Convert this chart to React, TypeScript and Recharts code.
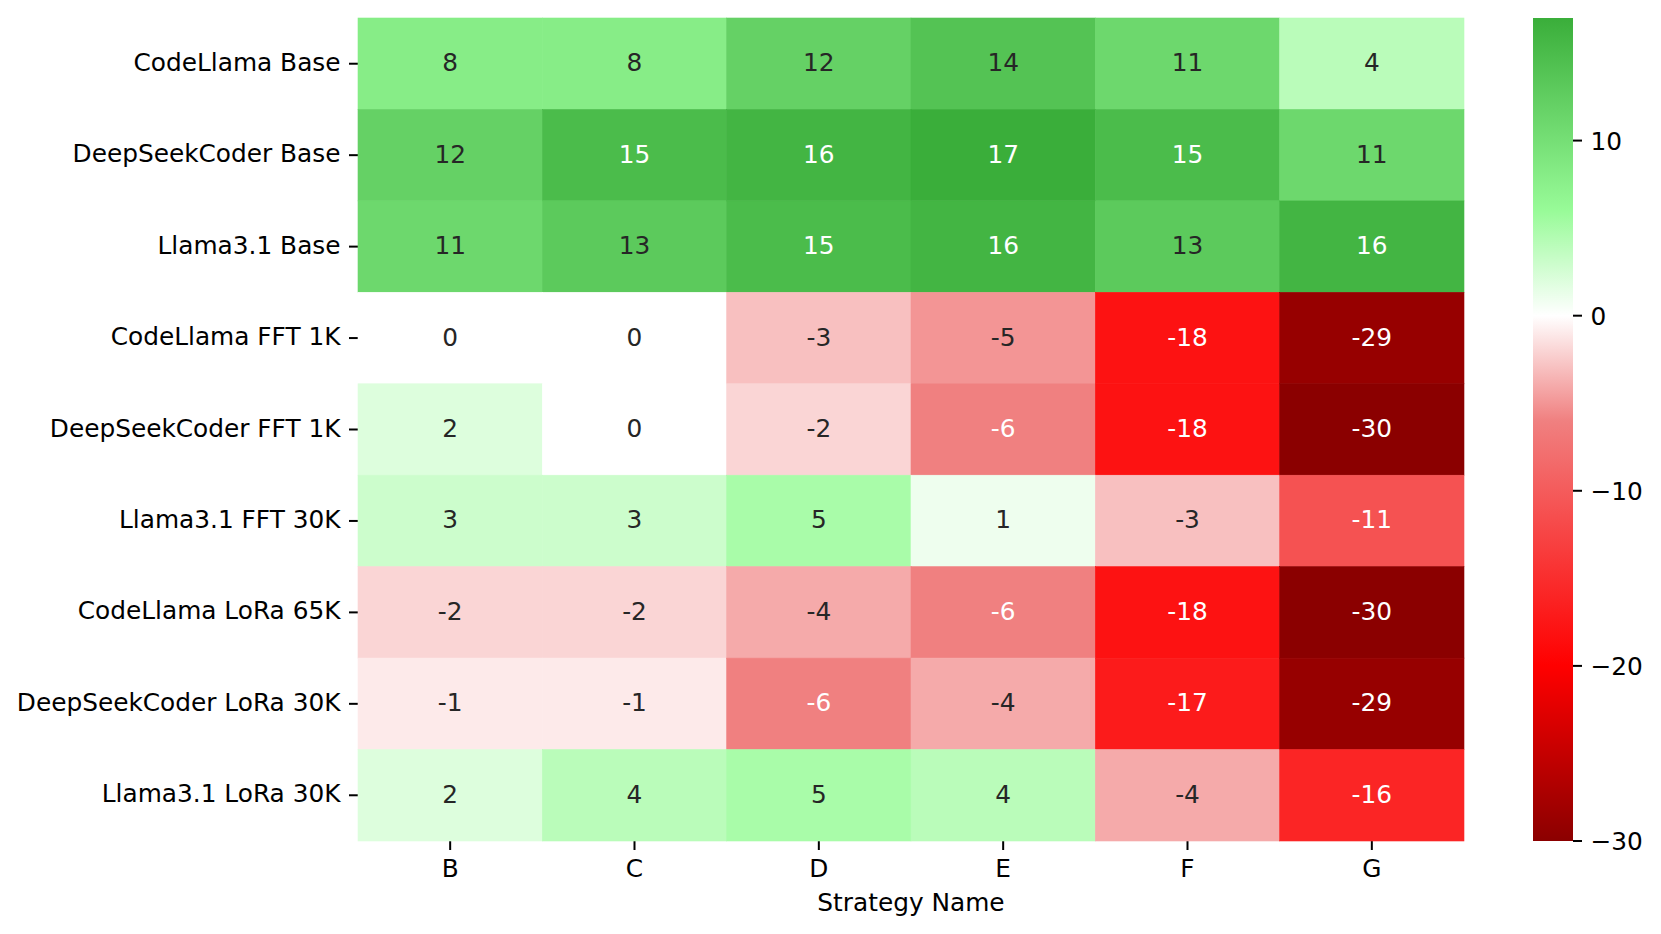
import React from "react";
import {
  ScatterChart,
  Scatter,
  BarChart,
  Bar,
  XAxis,
  YAxis,
  Label,
} from "recharts";

// rows (models) and columns (strategies)
const MODELS = [
  "CodeLlama Base",
  "DeepSeekCoder Base",
  "Llama3.1 Base",
  "CodeLlama FFT 1K",
  "DeepSeekCoder FFT 1K",
  "Llama3.1 FFT 30K",
  "CodeLlama LoRa 65K",
  "DeepSeekCoder LoRa 30K",
  "Llama3.1 LoRa 30K",
];
const STRATEGIES = ["B", "C", "D", "E", "F", "G"];

const codeLlamaBase = [8, 8, 12, 14, 11, 4];
const deepSeekBase = [12, 15, 16, 17, 15, 11];
const llamaBase = [11, 13, 15, 16, 13, 16];
const codeLlamaFft1k = [0, 0, -3, -5, -18, -29];
const deepSeekFft1k = [2, 0, -2, -6, -18, -30];
const llamaFft30k = [3, 3, 5, 1, -3, -11];
const codeLlamaLora65k = [-2, -2, -4, -6, -18, -30];
const deepSeekLora30k = [-1, -1, -6, -4, -17, -29];
const llamaLora30k = [2, 4, 5, 4, -4, -16];

const ROW_VALUES = [
  codeLlamaBase,
  deepSeekBase,
  llamaBase,
  codeLlamaFft1k,
  deepSeekFft1k,
  llamaFft30k,
  codeLlamaLora65k,
  deepSeekLora30k,
  llamaLora30k,
];

const CBAR_MIN = -30;
const CBAR_MAX = 17;
const CBAR_TICKS = [-30, -20, -10, 0, 10];

// colormap nodes: value -> rgb
const CMAP: [number, number[]][] = [
  [-30, [139, 0, 0]],
  [-20, [255, 0, 0]],
  [-6, [240, 128, 128]],
  [0, [255, 255, 255]],
  [6, [152, 251, 152]],
  [17, [58, 174, 58]],
];

const FONT = "'DejaVu Sans', sans-serif";
const FONT_SIZE = 24.8;

const W = 1661;
const H = 934;
const PLOT_LEFT = 358;
const PLOT_RIGHT = 1464;
const PLOT_TOP = 18;
const PLOT_BOTTOM = 841;
const CELL_W = (PLOT_RIGHT - PLOT_LEFT) / STRATEGIES.length;
const CELL_H = (PLOT_BOTTOM - PLOT_TOP) / MODELS.length;

function rgbFor(v: number): number[] {
  if (v <= CMAP[0][0]) return CMAP[0][1];
  for (let i = 1; i < CMAP.length; i++) {
    const [v1, c1] = CMAP[i];
    const [v0, c0] = CMAP[i - 1];
    if (v <= v1) {
      const t = (v - v0) / (v1 - v0);
      return c0.map((c, k) => Math.round(c + (c1[k] - c) * t));
    }
  }
  return CMAP[CMAP.length - 1][1];
}

const toHex = (rgb: number[]) =>
  "#" + rgb.map((c) => c.toString(16).padStart(2, "0")).join("");

function luminance(rgb: number[]) {
  const lin = rgb.map((c) => {
    const s = c / 255;
    return s <= 0.03928 ? s / 12.92 : Math.pow((s + 0.055) / 1.055, 2.4);
  });
  return 0.2126 * lin[0] + 0.7152 * lin[1] + 0.0722 * lin[2];
}

const cells = ROW_VALUES.flatMap((row, r) =>
  row.map((v, c) => ({ x: c + 0.5, y: r + 0.5, v }))
);

const HeatCell = (props: any) => {
  const { cx, cy, payload } = props;
  const rgb = rgbFor(payload.v);
  const fill = toHex(rgb);
  const textFill = luminance(rgb) > 0.408 ? "#262626" : "#ffffff";
  return (
    <g>
      <rect
        x={cx - CELL_W / 2}
        y={cy - CELL_H / 2}
        width={CELL_W}
        height={CELL_H}
        fill={fill}
        stroke={fill}
        strokeWidth={0.6}
      />
      <text
        x={cx}
        y={cy}
        dy={7.5}
        textAnchor="middle"
        fill={textFill}
        fontFamily={FONT}
        fontSize={FONT_SIZE}
      >
        {payload.v}
      </text>
    </g>
  );
};

const RowTick = (props: any) => {
  const { x, y, payload } = props;
  return (
    <text x={x} y={y} dy={7} textAnchor="end" fill="#000" fontFamily={FONT} fontSize={FONT_SIZE}>
      {MODELS[Math.floor(payload.value)]}
    </text>
  );
};

const ColTick = (props: any) => {
  const { x, y, payload } = props;
  return (
    <text x={x} y={y} dy={18.5} textAnchor="middle" fill="#000" fontFamily={FONT} fontSize={FONT_SIZE}>
      {STRATEGIES[Math.floor(payload.value)]}
    </text>
  );
};

const CbarTick = (props: any) => {
  const { x, y, payload } = props;
  const v = payload.value;
  const txt = v < 0 ? "\u2212" + Math.abs(v) : String(v);
  return (
    <text x={x} y={y} dy={9} textAnchor="start" fill="#000" fontFamily={FONT} fontSize={FONT_SIZE}>
      {txt}
    </text>
  );
};

const XTitle = (props: any) => {
  const { x, y, width } = props.viewBox;
  return (
    <text x={x + width / 2} y={y + 70} textAnchor="middle" fill="#000" fontFamily={FONT} fontSize={FONT_SIZE}>
      Strategy Name
    </text>
  );
};

const cbarData = [{ name: "cbar", range: [CBAR_MIN, CBAR_MAX] }];

export default function App() {
  const cbarLeft = 1533;
  const cbarWidth = 40;
  const cbarAxisW = 88;
  return (
    <div style={{ position: "absolute", left: 0, top: 0, width: W, height: H, background: "#fff" }}>
      <ScatterChart
        width={W}
        height={H}
        margin={{ top: PLOT_TOP, right: W - PLOT_RIGHT, bottom: 0, left: 0 }}
      >
        <XAxis
          type="number"
          dataKey="x"
          domain={[0, STRATEGIES.length]}
          ticks={STRATEGIES.map((_, i) => i + 0.5)}
          interval={0}
          height={H - PLOT_BOTTOM}
          axisLine={false}
          tickLine={{ stroke: "#000", strokeWidth: 2 }}
          tickSize={9}
          tickMargin={8.5}
          tick={<ColTick />}
        >
          <Label content={<XTitle />} />
        </XAxis>
        <YAxis
          type="number"
          dataKey="y"
          domain={[0, MODELS.length]}
          reversed
          ticks={MODELS.map((_, i) => i + 0.5)}
          interval={0}
          width={PLOT_LEFT}
          axisLine={false}
          tickLine={{ stroke: "#000", strokeWidth: 2 }}
          tickSize={9}
          tickMargin={8.5}
          tick={<RowTick />}
        />
        <Scatter data={cells} shape={<HeatCell />} isAnimationActive={false} />
      </ScatterChart>

      <div style={{ position: "absolute", left: cbarLeft, top: 0 }}>
        <BarChart
          width={cbarWidth + cbarAxisW}
          height={H}
          data={cbarData}
          barCategoryGap={0}
          margin={{ top: PLOT_TOP, right: 0, bottom: H - PLOT_BOTTOM, left: 0 }}
        >
          <defs>
            <linearGradient id="cbarGrad" x1="0" y1="0" x2="0" y2="1">
              {CMAP.slice()
                .reverse()
                .map(([v, rgb]) => (
                  <stop
                    key={v}
                    offset={(CBAR_MAX - v) / (CBAR_MAX - CBAR_MIN)}
                    stopColor={toHex(rgb)}
                  />
                ))}
            </linearGradient>
          </defs>
          <XAxis dataKey="name" hide />
          <YAxis
            orientation="right"
            type="number"
            domain={[CBAR_MIN, CBAR_MAX]}
            ticks={CBAR_TICKS}
            interval={0}
            width={cbarAxisW}
            axisLine={false}
            tickLine={{ stroke: "#000", strokeWidth: 2 }}
            tickSize={9}
            tickMargin={8.5}
            tick={<CbarTick />}
          />
          <Bar dataKey="range" fill="url(#cbarGrad)" isAnimationActive={false} />
        </BarChart>
      </div>
    </div>
  );
}
